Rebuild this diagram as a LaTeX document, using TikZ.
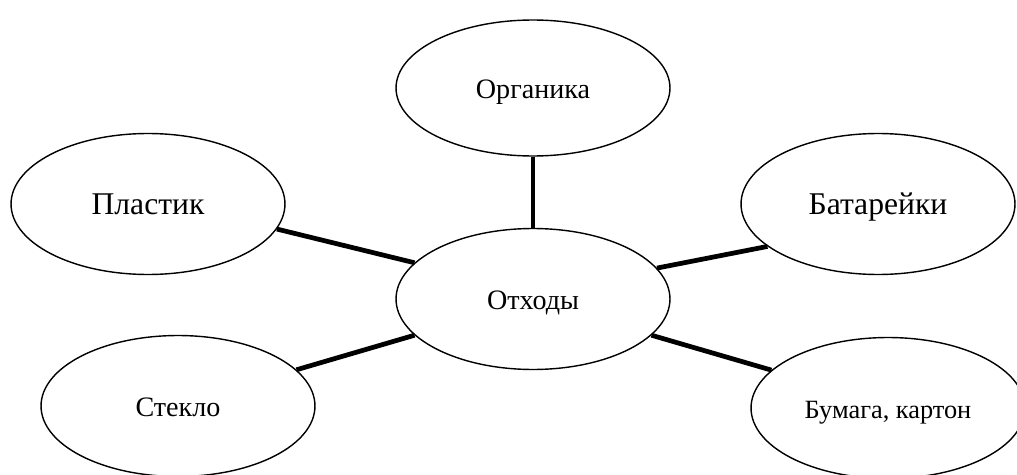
\documentclass[tikz,border=0pt]{standalone}
\usepackage{fontspec}
\setmainfont{Liberation Serif}
\usepackage{tikz}
\usetikzlibrary{shapes.geometric}

\begin{document}
\begin{tikzpicture}[
  x=0.02cm,y=0.02cm,
  bubble/.style={draw,ellipse,line width=0.8pt,minimum width=5.48cm,minimum height=2.82cm,inner sep=0pt,
    text height=1.2em,text depth=0.05em,font=\fontsize{16pt}{18pt}\selectfont},
  bigtext/.style={font=\fontsize{18pt}{20pt}\selectfont},
  smalltext/.style={font=\fontsize{15pt}{17pt}\selectfont},
  link/.style={line width=2.7pt}
]
\useasboundingbox (0,0) rectangle (1017,474);
\node[bubble] (waste) at (533,175) {Отходы};
\node[bubble,minimum height=2.72cm] (organic) at (533,386) {Органика};
\node[bubble,bigtext] (plastic) at (148,270) {Пластик};
\node[bubble,bigtext] (batteries) at (878,270) {Батарейки};
\node[bubble] (glass) at (178,68) {Стекло};
\node[bubble,smalltext] (paper) at (888,66) {Бумага, картон};
\draw[link] (organic) -- (waste);
\draw[link] (plastic.-11) -- (waste.163);
\draw[link] (batteries.201) -- (waste.14);
\draw[link] (glass.17) -- (waste.197);
\draw[link] (paper.162) -- (waste.-17);
\end{tikzpicture}
\end{document}
